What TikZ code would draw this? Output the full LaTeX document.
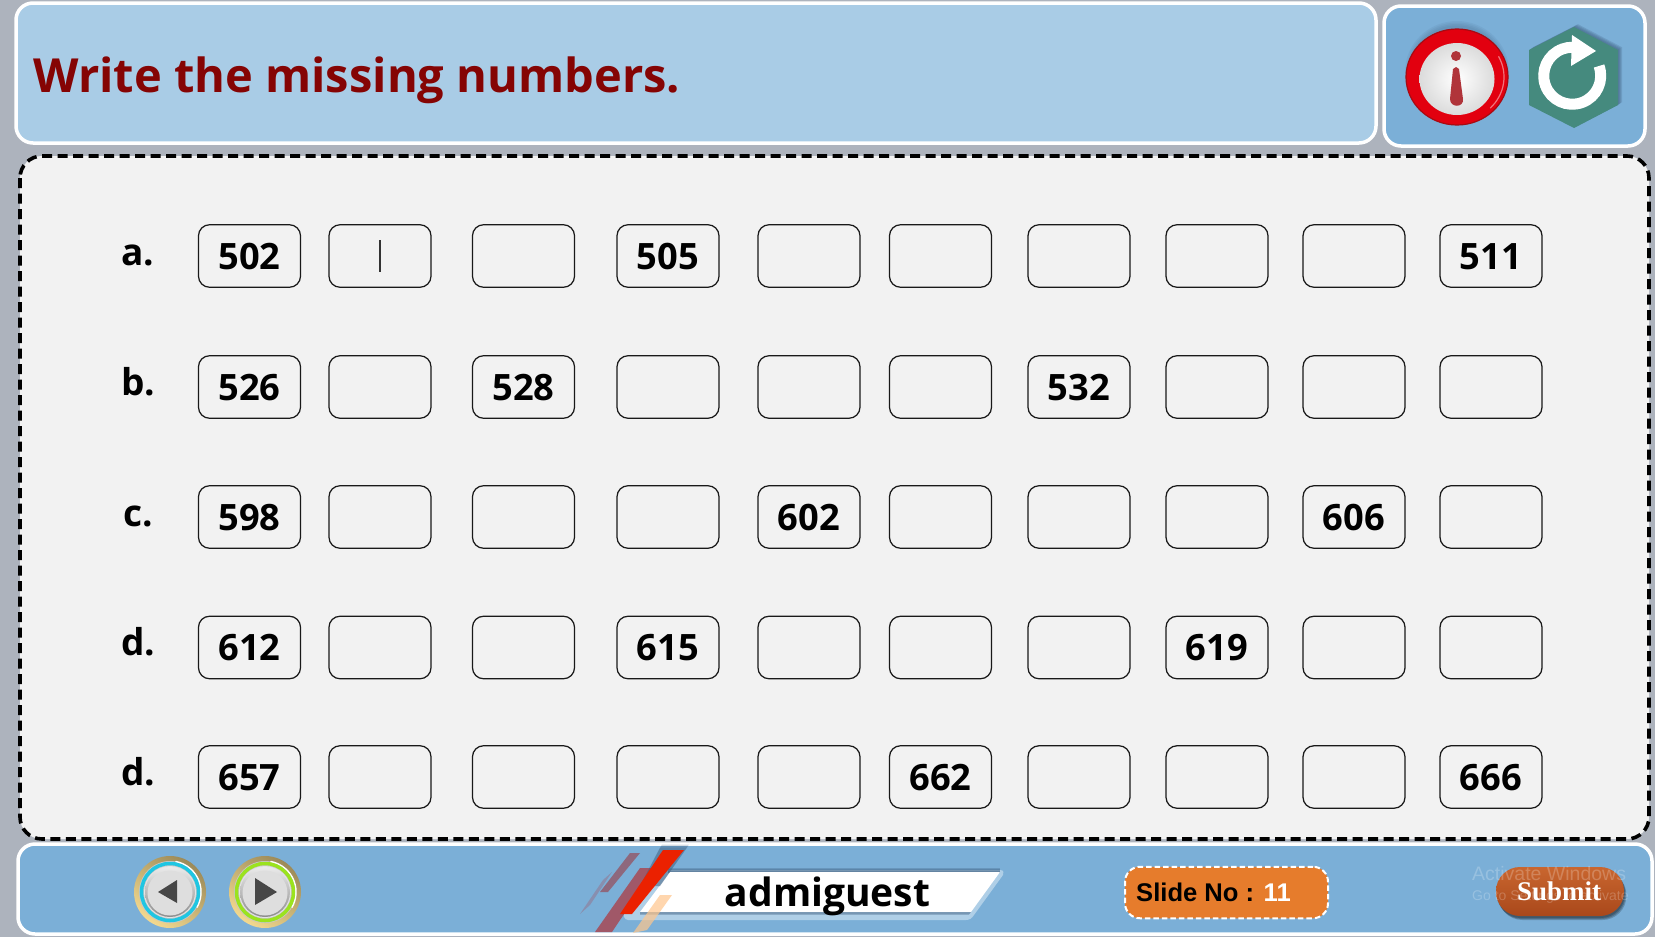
\documentclass[tikz,border=0pt]{standalone}
\usepackage{fontspec}
\setmainfont{Open Sans}
\newfontfamily\arialf{Liberation Sans}
\newfontfamily\timesf{Liberation Serif}
\usetikzlibrary{calc}
\definecolor{bgray}{HTML}{ADB3BD}
\definecolor{titleblue}{HTML}{A9CCE6}
\definecolor{panelblue}{HTML}{7BAFD7}
\definecolor{contentgray}{HTML}{F2F2F2}
\definecolor{titlered}{HTML}{850404}
\definecolor{hexgreen}{HTML}{458A7E}
\definecolor{hexshadow}{HTML}{3F5F80}
\definecolor{badgeorange}{HTML}{E67C2C}
\definecolor{inforing}{HTML}{E2000F}
\definecolor{infodark}{HTML}{A80A12}
\definecolor{infotie}{HTML}{B0343A}
\definecolor{goldA}{HTML}{9C8A58}
\definecolor{goldB}{HTML}{F3D98F}
\definecolor{ringcyan}{HTML}{1FC6E2}
\definecolor{ringgreen}{HTML}{9BE31E}
\definecolor{subA}{HTML}{C9662F}
\definecolor{subB}{HTML}{A9481B}
\tikzset{
  panel/.style={draw=white,line width=3.5pt,rounded corners=17pt,fill=panelblue},
  numbox/.style={draw=black!90,line width=1.25pt,rounded corners=11pt,fill=contentgray,minimum width=102pt,minimum height=62.5pt,inner sep=0pt},
  numtext/.style={font=\fontsize{36.3}{36.3}\selectfont\bfseries,text=black,anchor=base,inner sep=0pt,yshift=-13.3pt},
  rowlabel/.style={font=\fontsize{37}{37}\selectfont\bfseries,text=black,anchor=base west,inner sep=0pt},
}
\begin{document}
\begin{tikzpicture}[x=1pt,y=-1pt]
\useasboundingbox (0,0) rectangle (1655,937);
\fill[bgray] (0,0) rectangle (1655,937);
% panels
\draw[panel,fill=titleblue] (16,3) rectangle (1376,143);
\draw[panel] (1384,6) rectangle (1645,146);
\draw[panel] (18,844) rectangle (1652,934);
\draw[draw=black,line width=3.6pt,rounded corners=22pt,fill=contentgray,dash pattern=on 10pt off 5.5pt] (20,156) rectangle (1649,839);
\node[anchor=base west,inner sep=0pt,text=titlered,font=\fontsize{47}{47}\selectfont\bfseries] (title) at (33,92.7) {Write the missing numbers.};
% boxes
\foreach \r/\y in {1/256,2/387,3/517,4/647.5,5/777}{
  \foreach \c/\x in {1/249.5,2/380,3/523.5,4/668,5/809,6/940.5,7/1079,8/1217,9/1354,10/1491}{
    \node[numbox] (b\r-\c) at (\x,\y) {};
  }
}
\foreach \pos/\val in {1-1/502,1-4/505,1-10/511,2-1/526,2-3/528,2-7/532,3-1/598,3-5/602,3-9/606,4-1/612,4-4/615,4-8/619,5-1/657,5-6/662,5-10/666}{
  \node[numtext] (t\pos) at (b\pos.center) {\val};
}
\coordinate (caretA) at ($(b1-2.center)+(0,-16)$);
\coordinate (caretB) at ($(b1-2.center)+(0,16)$);
\draw[black!80,line width=1.2pt] (caretA) -- (caretB);
\node[rowlabel] (la) at (121,265) {a.};
\node[rowlabel] (lb) at (121,395.5) {b.};
\node[rowlabel] (lc) at (123,526) {c.};
\node[rowlabel] (ld) at (121,655.5) {d.};
\node[rowlabel] (le) at (121,785) {d.};
% info button
\foreach \e in {1,2,3,4}{
  \fill[hexshadow,opacity=.09] (1457,72) ellipse ({46+\e*1.5} and {45+\e*1.5});
}
\fill[inforing,draw=infodark,line width=1.2pt] (1457,77) ellipse (51 and 48);
\draw[white!45!inforing,line width=1.2pt] (1457,77) ++(-28:47 and 44) arc (-28:45:47 and 44);
\shade[inner color=white,inner color=white,outer color=black!14] (1457,79) ellipse (37.5 and 36);
\fill[infotie] (1456,56) circle (5);
\fill[infotie] (1453,69) -- (1456,67) -- (1459,69) -- (1463,99) .. controls (1464,108) and (1450,108) .. (1450,99) -- cycle;
% refresh button
\foreach \d in {1,2,3,4}{
  \fill[hexshadow,opacity=.22] ($(1574,27)+(\d,-\d*.7)$) -- ($(1618,50)+(\d,-\d*.7)$) -- ($(1618,105)+(\d,-\d*.7)$) -- ($(1574,128)+(\d,-\d*.7)$) -- ($(1529,105)+(\d,-\d*.7)$) -- ($(1529,50)+(\d,-\d*.7)$) -- cycle;
}
\fill[hexgreen] (1574,27) -- (1618,50) -- (1618,105) -- (1574,128) -- (1529,105) -- (1529,50) -- cycle;
\draw[white,line width=11pt] (1599,66) arc (-20:290:28.5);
\fill[white] (1572,35) -- (1596,51) -- (1571,66) -- cycle;
% nav buttons
\foreach \n/\cx/\ring in {p/170/ringcyan,q/265/ringgreen}{
  \shade[left color=goldA,right color=goldB,shading angle=-35] (\cx,892) circle (36);
  \fill[black!22] (\cx,892) circle (31);
  \draw[white,line width=1.5pt] (\cx,892) ++(-80:31) arc (-80:30:31);
  \draw[\ring,line width=3.5pt] (\cx,892) circle (28.5);
  \fill[white!90!black] (\cx,892) circle (26);
  \shade[top color=black!8,bottom color=black!45] (\cx,892) circle (25);
  \fill[black!13] (\cx,893) circle (22.5);
}
\fill[black!72] (158,892) -- (177,880) -- (177,903) -- cycle;
\fill[black!72] (277,892) -- (255,878) -- (255,905) -- cycle;
% user banner
\fill[white,opacity=.4] (668,870) -- (1000,870) .. controls (1004,870) and (1004,873) .. (1003,875) -- (974,915) .. controls (972,918) and (970,920) .. (966,920) -- (628,920) .. controls (624,920) and (622,914) .. (626,912) -- cycle;
\foreach \d in {1,2,3}{
  \fill[hexshadow,opacity=.3] (668,872-\d*1.4) -- (1000,872-\d*1.4) -- (1000,873) -- (668,873) -- cycle;
}
\fill[white] (670,872) -- (1000,872) -- (971,912) -- (640,912) -- cycle;
\fill[hexshadow,opacity=.5] (640,912) -- (971,912) -- (969,914.5) -- (640,914.5) -- cycle;
% stripes
\fill[infotie!90!black,opacity=.55] (630,853) -- (640,853) -- (608,892) -- (600,892) -- cycle;
\fill[infotie!50!panelblue,opacity=.5] (603,880) -- (612,872) -- (590,905) -- (580,914) -- cycle;
\fill[infotie,opacity=.7] (640,868) -- (655,868) -- (612,932) -- (595,932) -- cycle;
\fill[orange!45!white,opacity=.7] (660,895) -- (672,895) -- (647,930) -- (633,933) -- cycle;
\foreach \d in {1,2,3}{
  \fill[hexshadow,opacity=.22] (659+\d,849-\d*1.5) -- (686+\d,849-\d*1.5) -- (660,886) -- (640,886) -- cycle;
}
\fill[red!72!orange!92!black] (663,850) -- (684,850) -- (632,914) -- (620,914) -- cycle;
\node[inner sep=0pt,anchor=base,font=\fontsize{39}{39}\selectfont\bfseries,text=black] (user) at (827.5,906) {admiguest};
% slide badge
\node[draw=white,line width=2pt,dash pattern=on 5.5pt off 3pt,rounded corners=15pt,fill=badgeorange,minimum width=203pt,minimum height=51.5pt,inner sep=0pt] (slide) at (1226.5,892.5) {};
\node[anchor=base west,inner sep=0pt,font=\fontsize{25.6}{25.6}\selectfont\arialf\bfseries] (slidetxt) at (1136,901) {Slide No : \textcolor{white}{11}};
% submit
\foreach \d in {1,2,3}{
  \fill[black,opacity=.2,rounded corners=24pt] (1496+\d*.8,868+\d) rectangle (1624+\d*.8,917+\d);
}
\shade[rounded corners=24pt,top color=subA,bottom color=subB] (1496,867) rectangle (1624,916);
\node[inner sep=0pt,anchor=base,font=\fontsize{27}{27}\selectfont\timesf\bfseries,text=white] (submit) at (1559,900) {Submit};
\node[anchor=base west,inner sep=0pt,opacity=.22,text=white,font=\fontsize{19.5}{19.5}\selectfont\arialf] (wm1) at (1472,880) {Activate Windows};
\node[anchor=base west,inner sep=0pt,opacity=.22,text=white,font=\fontsize{14}{14}\selectfont\arialf] (wm2) at (1472,900) {Go to Settings to activate};
\end{tikzpicture}
\end{document}
